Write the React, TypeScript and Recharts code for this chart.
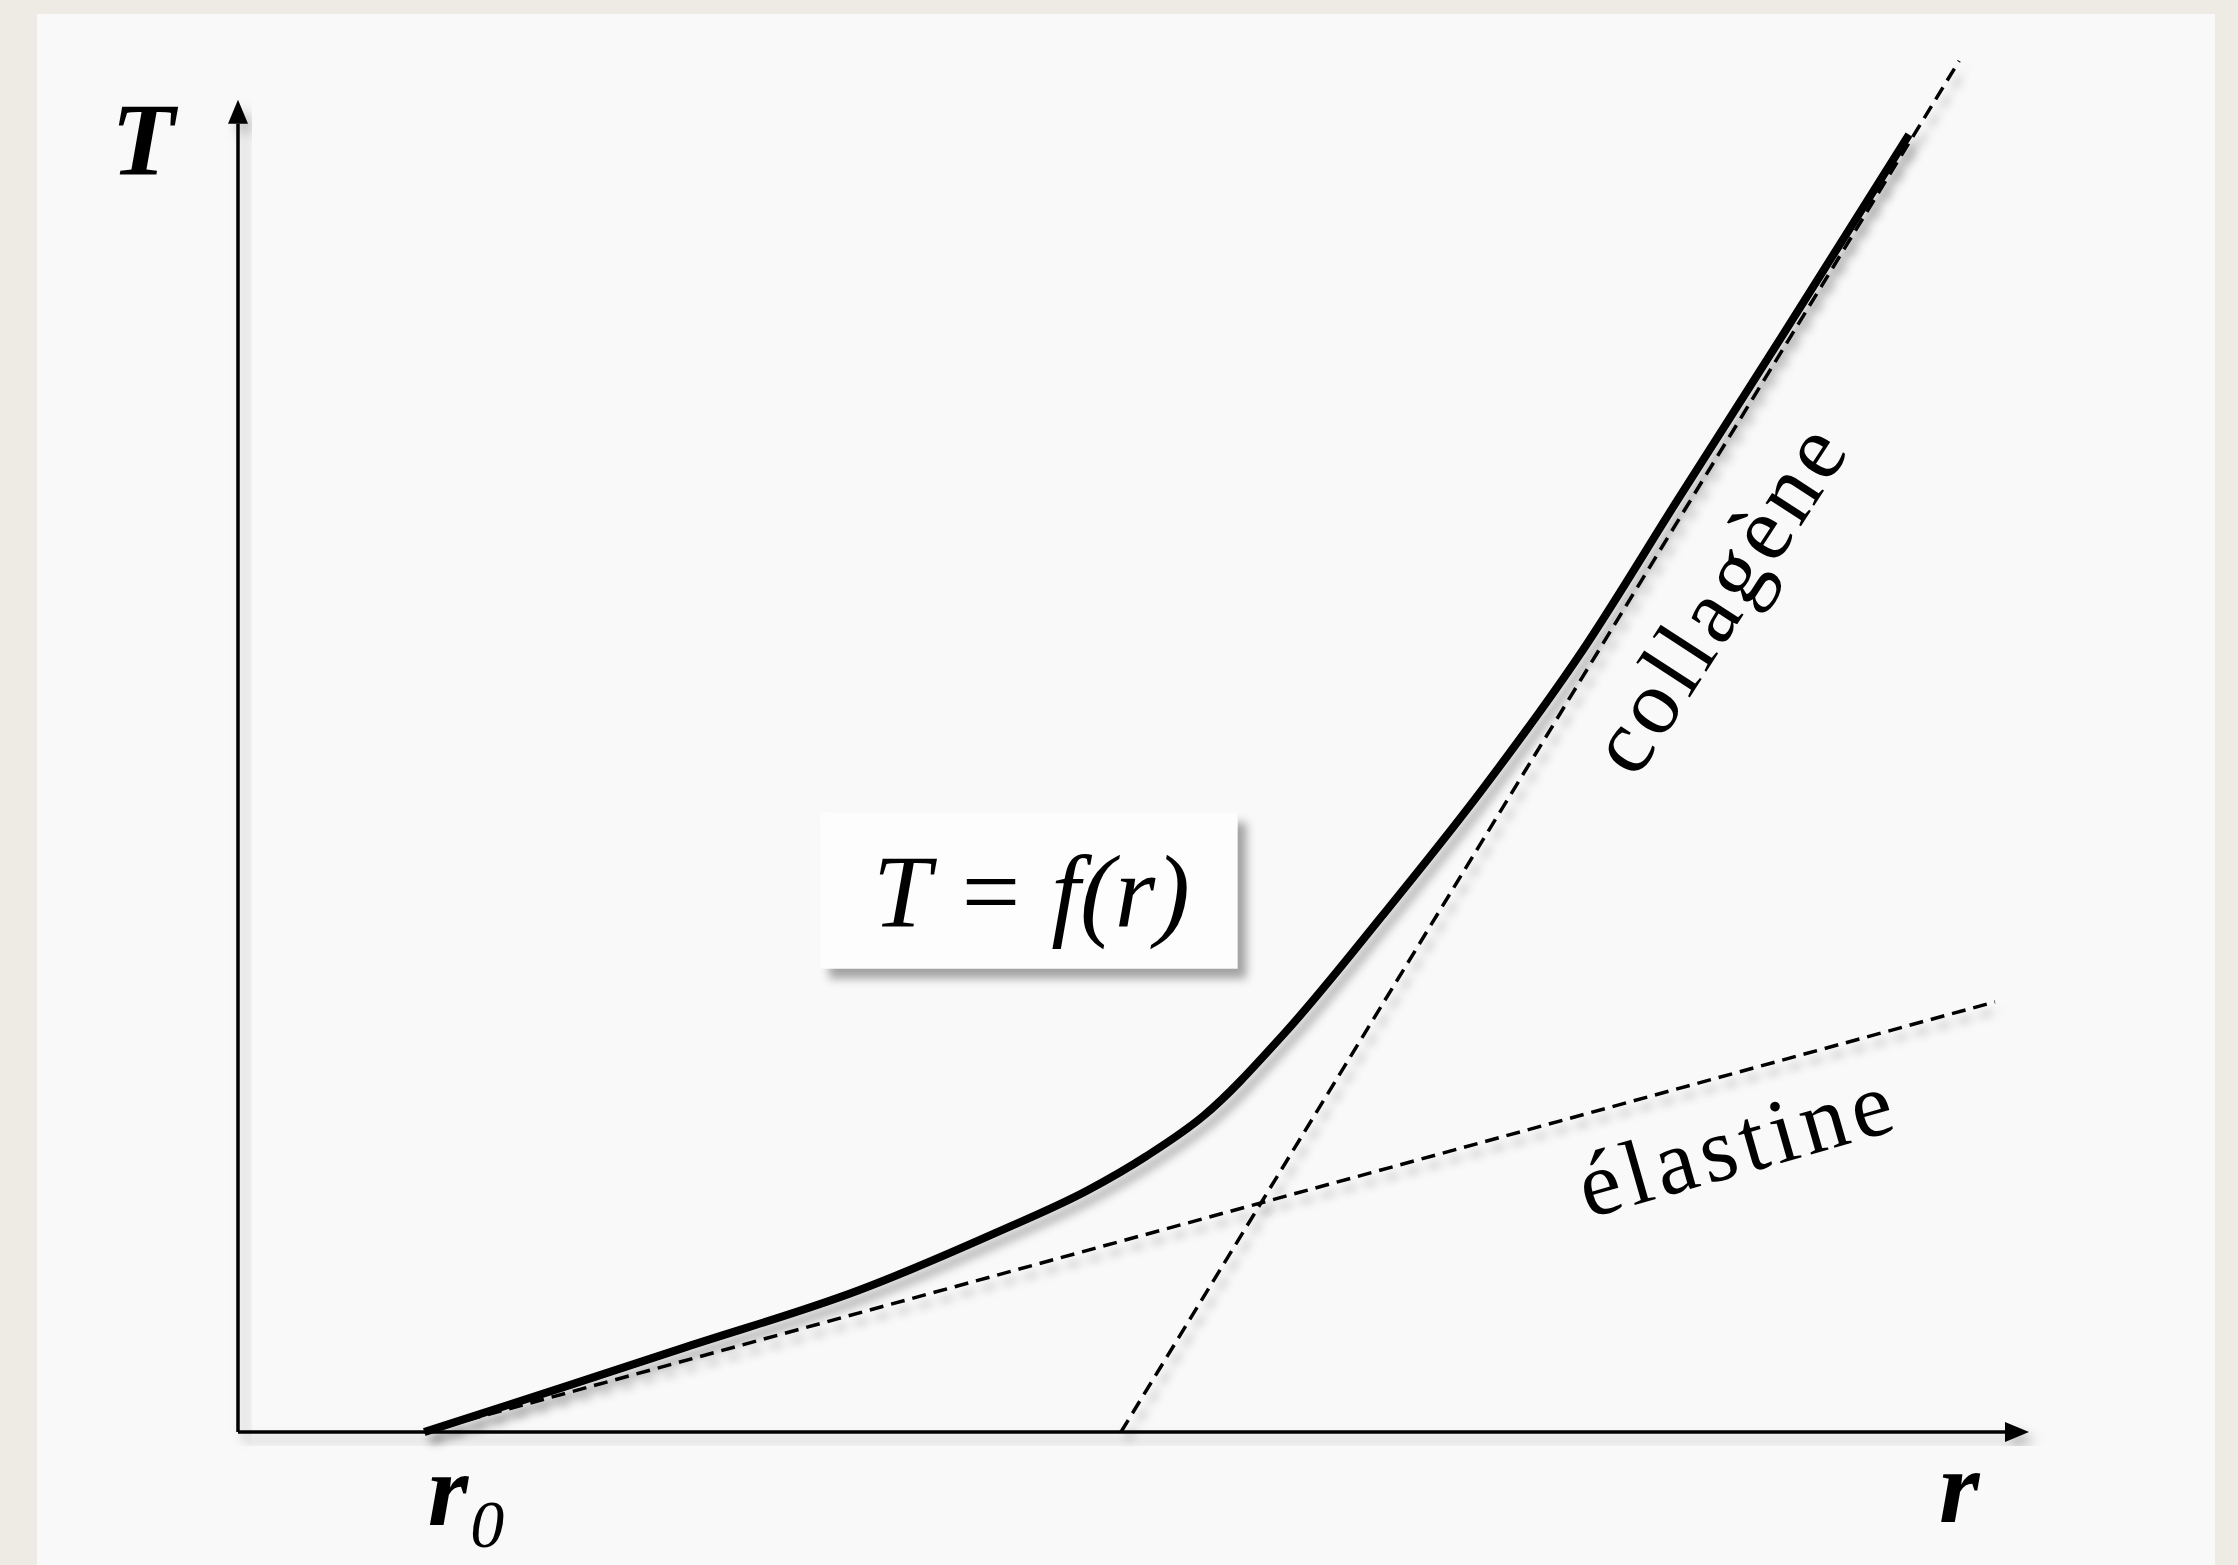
import React from "react";
import {
  ComposedChart,
  Line,
  XAxis,
  YAxis,
  ReferenceLine,
  ReferenceDot,
  ReferenceArea,
} from "recharts";

// T = f(r) curve (r and T in arbitrary units 0..100)
const curveR = [10.4, 18.6, 25.0, 34.7, 42.3, 47.5, 50.7, 53.9, 58.4, 63.9, 69.5, 75.1, 80.4, 86.3, 93.3];
const curveT = [0, 3.4, 6.1, 10.2, 14.3, 17.4, 19.8, 22.7, 28.6, 37.1, 46.2, 56.2, 67.0, 78.9, 93.2];

// asymptotes
const elastineR = [10.4, 98.1];
const elastineT = [0, 30.9];
const collageneR = [49.3, 96.1];
const collageneT = [0, 98.5];

// axis extents and the T = f(r) box
const axisEnd = { r: 100, T: 95.7 };
const boxR = [32.5, 55.8];
const boxT = [33.3, 44.5];

const curve = curveR.map((r, i) => ({ r, T: curveT[i] }));
const elastine = elastineR.map((r, i) => ({ r, T: elastineT[i] }));
const collagene = collageneR.map((r, i) => ({ r, T: collageneT[i] }));

const serif = "'Liberation Serif', 'DejaVu Serif', serif";

const Arrow = (props: any) => {
  const { x1, y1, x2, y2 } = props;
  const ang = Math.atan2(y2 - y1, x2 - x1);
  const len = 24;
  const half = 10;
  const bx = x2 - len * Math.cos(ang);
  const by = y2 - len * Math.sin(ang);
  const px = -Math.sin(ang) * half;
  const py = Math.cos(ang) * half;
  return (
    <g filter="url(#soft)">
      <line x1={x1} y1={y1} x2={bx} y2={by} stroke="#000" strokeWidth={3.5} />
      <polygon
        points={`${x2},${y2} ${bx + px},${by + py} ${bx - px},${by - py}`}
        fill="#000"
      />
    </g>
  );
};

const label =
  (text: React.ReactNode, opts: { size?: number; italic?: boolean; bold?: boolean; rotate?: number; anchor?: string; spacing?: number }) =>
  (p: any) => (
    <text
      x={p.cx}
      y={p.cy}
      fontFamily={serif}
      fontSize={opts.size ?? 104}
      fontStyle={opts.italic ? "italic" : "normal"}
      fontWeight={opts.bold ? "bold" : "normal"}
      letterSpacing={opts.spacing ?? 0}
      textAnchor={opts.anchor ?? "middle"}
      fill="#000"
      transform={opts.rotate ? `rotate(${opts.rotate}, ${p.cx}, ${p.cy})` : undefined}
    >
      {text}
    </text>
  );

const Box = (p: any) => (
  <rect
    x={p.x}
    y={p.y}
    width={p.width}
    height={p.height}
    fill="#fdfdfd"
    filter="url(#boxShadow)"
  />
);

export default function App() {
  return (
    <div
      style={{
        position: "absolute",
        left: 0,
        top: 0,
        width: 2238,
        height: 1565,
        background: "#eeebe4",
        overflow: "hidden",
      }}
    >
      <div
        style={{
          position: "absolute",
          left: 37,
          top: 14,
          width: 2178,
          height: 1551,
          background: "#f9f9f9",
        }}
      />
      <div style={{ position: "absolute", left: 0, top: 0 }}>
        <style>{`.shadowed path { filter: drop-shadow(6px 8px 5px rgba(0,0,0,0.3)); }`}</style>
        <ComposedChart
          width={2238}
          height={1565}
          margin={{ left: 238, right: 209, top: 40, bottom: 133 }}
        >
          <defs>
            <filter id="soft" x="-10%" y="-10%" width="130%" height="130%">
              <feDropShadow dx="7" dy="8" stdDeviation="6" floodColor="#000" floodOpacity="0.26" />
            </filter>
            <filter id="boxShadow" x="-10%" y="-20%" width="130%" height="150%">
              <feDropShadow dx="9" dy="10" stdDeviation="5" floodColor="#000" floodOpacity="0.35" />
            </filter>
          </defs>
          <XAxis type="number" dataKey="r" domain={[0, 100]} hide />
          <YAxis type="number" dataKey="T" domain={[0, 100]} hide />

          <ReferenceLine
            segment={[{ x: 0, y: 0 }, { x: axisEnd.r, y: 0 }]}
            ifOverflow="visible"
            shape={Arrow}
          />
          <ReferenceLine
            segment={[{ x: 0, y: 0 }, { x: 0, y: axisEnd.T }]}
            ifOverflow="visible"
            shape={Arrow}
          />

          <ReferenceArea
            x1={boxR[0]}
            x2={boxR[1]}
            y1={boxT[0]}
            y2={boxT[1]}
            ifOverflow="visible"
            shape={Box}
          />

          <Line
            data={elastine}
            dataKey="T"
            type="linear"
            stroke="#000"
            strokeWidth={3.5}
            strokeDasharray="14 8"
            dot={false}
            className="shadowed"
            isAnimationActive={false}
          />
          <Line
            data={collagene}
            dataKey="T"
            type="linear"
            stroke="#000"
            strokeWidth={3.5}
            strokeDasharray="14 8"
            dot={false}
            className="shadowed"
            isAnimationActive={false}
          />
          <Line
            data={curve}
            dataKey="T"
            type="monotone"
            stroke="#000"
            strokeWidth={8}
            dot={false}
            className="shadowed"
            isAnimationActive={false}
          />

          <ReferenceDot x={-5.3} y={90.3} r={0} ifOverflow="visible" shape={label("T", { italic: true, bold: true })} />
          <ReferenceDot x={96.1} y={-6.5} r={0} ifOverflow="visible" shape={label("r", { italic: true, bold: true })} />
          <ReferenceDot
            x={10.6}
            y={-6.7}
            r={0}
            ifOverflow="visible"
            shape={label(
              <>
                r
                <tspan fontSize={68} fontWeight="normal" dx={2} dy={22}>
                  0
                </tspan>
              </>,
              { italic: true, bold: true, anchor: "start" }
            )}
          />
          <ReferenceDot x={44.3} y={36.3} r={0} ifOverflow="visible" shape={label("T = f(r)", { italic: true })} />
          <ReferenceDot
            x={84.1}
            y={58.8}
            r={0}
            ifOverflow="visible"
            shape={label("collagène", { size: 92, rotate: -57, spacing: 5 })}
          />
          <ReferenceDot
            x={84.2}
            y={18.6}
            r={0}
            ifOverflow="visible"
            shape={label("élastine", { size: 92, rotate: -16, spacing: 6 })}
          />
        </ComposedChart>
      </div>
    </div>
  );
}
